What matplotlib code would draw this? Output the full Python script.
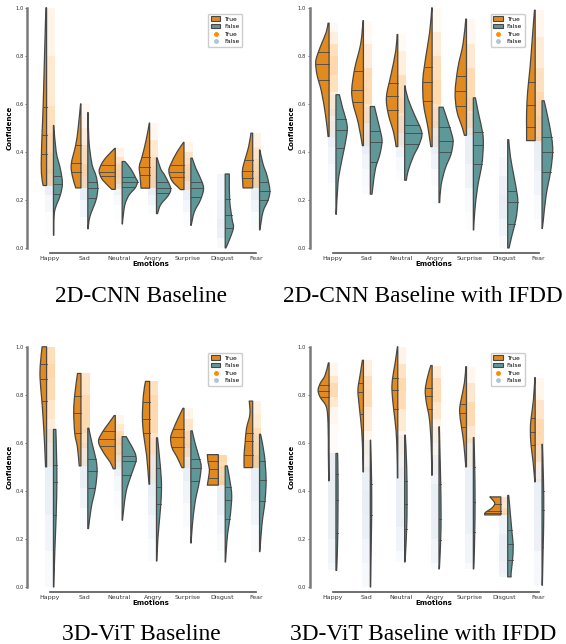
import numpy as np
import matplotlib.pyplot as plt
from matplotlib.patches import Patch, PathPatch
from matplotlib.path import Path
from matplotlib.lines import Line2D

emotions = ['Happy', 'Sad', 'Neutral', 'Angry', 'Surprise', 'Disgust', 'Fear']
titles = ['2D-CNN Baseline', '2D-CNN Baseline with IFDD',
          '3D-ViT Baseline', '3D-ViT Baseline with IFDD']

# every half violin: confidence levels (top -> bottom), half width at each
# level (in % of one category step) and quartiles (q1, median, q3)
# None = no samples for that class

# ---- 2D-CNN baseline
cnn_true_levels = [[1.0, 0.8, 0.59, 0.48, 0.39, 0.31, 0.26],
                   [0.60, 0.5, 0.43, 0.35, 0.30, 0.25],
                   [0.415, 0.38, 0.35, 0.32, 0.29, 0.265, 0.244],
                   [0.52, 0.45, 0.38, 0.34, 0.30, 0.249],
                   [0.44, 0.40, 0.35, 0.32, 0.28, 0.243],
                   None,
                   [0.478, 0.42, 0.37, 0.32, 0.25]]
cnn_true_widths = [[2, 6, 10, 13, 15, 15, 10],
                   [1, 8, 15, 28, 25, 15],
                   [1, 25, 40, 47, 40, 25, 10],
                   [1, 10, 22, 30, 28, 25],
                   [1, 20, 38, 44, 35, 10],
                   None,
                   [5, 12, 22, 30, 28]]
cnn_true_quart = [(0.39, 0.47, 0.585), (0.318, 0.353, 0.428), (0.30, 0.317, 0.346),
                  (0.304, 0.338, 0.378), (0.297, 0.318, 0.346), None,
                  (0.293, 0.321, 0.367)]
cnn_false_levels = [[0.51, 0.40, 0.33, 0.27, 0.22, 0.15, 0.053],
                    [0.564, 0.45, 0.35, 0.30, 0.25, 0.20, 0.13, 0.08],
                    [0.36, 0.33, 0.29, 0.275, 0.25, 0.22, 0.18, 0.12, 0.10],
                    [0.375, 0.33, 0.30, 0.25, 0.22, 0.18, 0.143],
                    [0.374, 0.33, 0.30, 0.25, 0.20, 0.15, 0.094],
                    [0.308, 0.20, 0.12, 0.085, 0.04, 0.0],
                    [0.408, 0.35, 0.30, 0.24, 0.20, 0.15, 0.075]]
cnn_false_widths = [[1, 8, 20, 26, 20, 3, 1],
                    [1, 3, 12, 24, 29, 24, 6, 1],
                    [8, 25, 40, 45, 38, 20, 8, 2, 1],
                    [2, 12, 25, 41, 35, 12, 3],
                    [4, 15, 25, 37, 28, 10, 1],
                    [12, 13, 20, 24, 14, 2],
                    [1, 10, 22, 30, 25, 10, 1]]
cnn_false_quart = [(0.224, 0.267, 0.30), (0.206, 0.249, 0.276), (0.253, 0.274, 0.296),
                   (0.228, 0.249, 0.275), (0.214, 0.249, 0.275), (0.085, 0.138, 0.204),
                   (0.20, 0.239, 0.274)]

# ---- 2D-CNN with IFDD
cnn_ifdd_true_levels = [[0.936, 0.90, 0.85, 0.80, 0.77, 0.72, 0.65, 0.55, 0.464],
                        [0.947, 0.85, 0.75, 0.66, 0.60, 0.52, 0.426],
                        [0.889, 0.82, 0.72, 0.63, 0.56, 0.48, 0.422],
                        [1.0, 0.9, 0.8, 0.7, 0.6, 0.5, 0.422],
                        [0.953, 0.85, 0.75, 0.65, 0.57, 0.50, 0.469],
                        None,
                        [0.99, 0.88, 0.75, 0.65, 0.56, 0.50, 0.447]]
cnn_ifdd_true_widths = [[3, 8, 22, 35, 39, 35, 22, 10, 3],
                        [1, 8, 25, 34, 30, 15, 3],
                        [2, 6, 20, 33, 28, 12, 5],
                        [1, 7, 18, 27, 25, 12, 4],
                        [2, 10, 25, 33, 28, 12, 6],
                        None,
                        [2, 8, 15, 22, 25, 25, 25]]
cnn_ifdd_true_quart = [(0.699, 0.765, 0.814), (0.608, 0.658, 0.737), (0.575, 0.632, 0.686),
                       (0.613, 0.689, 0.754), (0.592, 0.654, 0.715), None,
                       (0.504, 0.594, 0.689)]
cnn_ifdd_false_levels = [[0.638, 0.58, 0.53, 0.49, 0.42, 0.35, 0.27, 0.14],
                         [0.589, 0.53, 0.47, 0.44, 0.39, 0.33, 0.26, 0.224],
                         [0.675, 0.62, 0.55, 0.48, 0.43, 0.38, 0.32, 0.282],
                         [0.586, 0.53, 0.47, 0.44, 0.39, 0.33, 0.26, 0.189],
                         [0.625, 0.56, 0.48, 0.43, 0.35, 0.25, 0.15, 0.075],
                         [0.451, 0.38, 0.30, 0.22, 0.18, 0.12, 0.05, 0.0],
                         [0.613, 0.55, 0.46, 0.40, 0.32, 0.22, 0.12, 0.081]]
cnn_ifdd_false_widths = [[10, 20, 30, 33, 25, 15, 6, 1],
                         [12, 22, 32, 34, 28, 15, 8, 5],
                         [1, 10, 30, 50, 42, 25, 10, 5],
                         [12, 25, 38, 41, 35, 18, 6, 2],
                         [6, 15, 27, 29, 25, 12, 4, 1],
                         [3, 8, 18, 28, 29, 24, 12, 4],
                         [6, 16, 28, 31, 25, 12, 4, 1]]
cnn_ifdd_false_quart = [(0.415, 0.492, 0.538), (0.356, 0.443, 0.486), (0.431, 0.478, 0.512),
                        (0.399, 0.446, 0.503), (0.35, 0.428, 0.482), (0.10, 0.192, 0.239),
                        (0.318, 0.40, 0.4625)]

# ---- 3D-ViT baseline
vit_true_levels = [[1.0, 0.93, 0.87, 0.78, 0.70, 0.60, 0.50],
                   [0.889, 0.80, 0.73, 0.64, 0.58, 0.504],
                   [0.714, 0.68, 0.65, 0.615, 0.59, 0.55, 0.52, 0.492],
                   [0.856, 0.80, 0.71, 0.64, 0.55, 0.45, 0.428],
                   [0.744, 0.70, 0.65, 0.62, 0.58, 0.54, 0.497],
                   [0.551, 0.52, 0.49, 0.46, 0.424],
                   [0.774, 0.72, 0.66, 0.60, 0.55, 0.497]]
vit_true_widths = [[13, 18, 19, 14, 10, 6, 3],
                   [10, 18, 21, 18, 10, 5],
                   [3, 20, 35, 48, 46, 30, 15, 6],
                   [12, 18, 21, 18, 9, 3, 2],
                   [3, 18, 33, 39, 35, 20, 6],
                   [32, 30, 26, 28, 32],
                   [10, 8, 18, 22, 25, 25]]
vit_true_quart = [(0.775, 0.867, 0.928), (0.642, 0.725, 0.797), (0.589, 0.615, 0.649),
                  (0.639, 0.70, 0.772), (0.583, 0.626, 0.658), (0.453, 0.492, 0.526),
                  (0.551, 0.606, 0.642)]
vit_false_levels = [[0.656, 0.55, 0.44, 0.30, 0.15, 0.0],
                    [0.661, 0.60, 0.53, 0.48, 0.41, 0.33, 0.243],
                    [0.626, 0.60, 0.56, 0.53, 0.50, 0.46, 0.40, 0.33, 0.278],
                    [0.621, 0.55, 0.45, 0.38, 0.30, 0.20, 0.108],
                    [0.65, 0.60, 0.53, 0.50, 0.44, 0.35, 0.25, 0.183],
                    [0.504, 0.44, 0.38, 0.30, 0.22, 0.15, 0.104],
                    [0.636, 0.55, 0.45, 0.36, 0.26, 0.147]]
vit_false_widths = [[7, 9, 10, 8, 4, 1],
                    [3, 12, 24, 27, 22, 10, 2],
                    [12, 22, 37, 41, 35, 25, 12, 5, 1],
                    [3, 8, 14, 14, 10, 4, 1],
                    [4, 12, 26, 30, 25, 12, 4, 1],
                    [6, 14, 19, 15, 7, 3, 1],
                    [3, 14, 19, 16, 7, 1]]
vit_false_quart = [(0.299, 0.435, 0.507), (0.41, 0.482, 0.532), (0.465, 0.525, 0.547),
                   (0.344, 0.417, 0.497), (0.44, 0.497, 0.532), (0.281, 0.361, 0.417),
                   (0.358, 0.447, 0.525)]

# ---- 3D-ViT with IFDD
vit_ifdd_true_levels = [[0.933, 0.88, 0.85, 0.82, 0.79, 0.75, 0.68, 0.55, 0.442],
                        [0.944, 0.88, 0.82, 0.75, 0.65, 0.55, 0.479],
                        [1.0, 0.93, 0.87, 0.82, 0.74, 0.65, 0.55, 0.454],
                        [0.922, 0.87, 0.82, 0.77, 0.70, 0.60, 0.465],
                        [0.917, 0.85, 0.77, 0.73, 0.67, 0.60, 0.50],
                        [0.375, 0.35, 0.33, 0.31, 0.30],
                        [0.872, 0.78, 0.70, 0.65, 0.59, 0.52, 0.4375]]
vit_ifdd_true_widths = [[2, 12, 25, 32, 26, 8, 3, 2, 1],
                        [3, 10, 16, 12, 5, 2, 1],
                        [1, 8, 15, 17, 12, 5, 2, 1],
                        [4, 14, 20, 17, 8, 3, 1],
                        [2, 6, 17, 20, 15, 8, 2],
                        [32, 18, 25, 45, 47],
                        [1, 5, 12, 14, 12, 6, 1]]
vit_ifdd_true_quart = [(0.789, 0.817, 0.842), (0.722, 0.812, 0.85), (0.743, 0.822, 0.869),
                       (0.74, 0.794, 0.828), (0.664, 0.725, 0.761), (0.307, 0.315, 0.344),
                       (0.593, 0.646, 0.704)]
vit_ifdd_false_levels = [[0.556, 0.45, 0.35, 0.20, 0.10, 0.069],
                         [0.611, 0.50, 0.40, 0.30, 0.20, 0.10, 0.0],
                         [0.632, 0.50, 0.35, 0.25, 0.15, 0.104],
                         [0.667, 0.55, 0.43, 0.30, 0.20, 0.10, 0.075],
                         [0.622, 0.50, 0.35, 0.22, 0.10, 0.075],
                         [0.381, 0.30, 0.22, 0.17, 0.11, 0.06, 0.042],
                         [0.594, 0.45, 0.30, 0.15, 0.007]]
vit_ifdd_false_widths = [[5, 6, 6, 5, 3, 2],
                         [1, 3, 4, 4, 3, 2, 1],
                         [2, 6, 7, 6, 3, 1],
                         [1, 3, 5, 6, 5, 2, 1],
                         [2, 4, 5, 4, 2, 1],
                         [3, 8, 13, 16, 14, 10, 10],
                         [1, 4, 5, 3, 1]]
vit_ifdd_false_quart = [(0.225, 0.361, 0.472), (0.194, 0.299, 0.428), (0.243, 0.344, 0.442),
                        (0.194, 0.285, 0.428), (0.228, 0.353, 0.499), (0.111, 0.178, 0.239),
                        (0.167, 0.32, 0.40)]

panels = [
    (cnn_true_levels, cnn_true_widths, cnn_true_quart,
     cnn_false_levels, cnn_false_widths, cnn_false_quart),
    (cnn_ifdd_true_levels, cnn_ifdd_true_widths, cnn_ifdd_true_quart,
     cnn_ifdd_false_levels, cnn_ifdd_false_widths, cnn_ifdd_false_quart),
    (vit_true_levels, vit_true_widths, vit_true_quart,
     vit_false_levels, vit_false_widths, vit_false_quart),
    (vit_ifdd_true_levels, vit_ifdd_true_widths, vit_ifdd_true_quart,
     vit_ifdd_false_levels, vit_ifdd_false_widths, vit_ifdd_false_quart),
]

TRUE_C = '#e08a1f'
FALSE_C = '#5f9898'
TRUE_DOT = '#ff9a2a'
FALSE_DOT = '#b0c4de'
EDGE = '#474747'
GAP = 0.1


def smooth_outline(xs, ys, edge, sgn):
    # bezier path through the read outline points (catmull-rom handles)
    pts = np.column_stack([xs, ys])
    P = np.vstack([pts[0], pts, pts[-1]])
    verts = [pts[0]]
    codes = [Path.MOVETO]
    for i in range(1, len(P) - 2):
        c1 = P[i] + (P[i + 1] - P[i - 1]) / 6.0
        c2 = P[i + 1] - (P[i + 2] - P[i]) / 6.0
        # keep handles on the outer side of the flat edge
        c1[0] = edge + sgn * max(sgn * (c1[0] - edge), 0)
        c2[0] = edge + sgn * max(sgn * (c2[0] - edge), 0)
        verts += [c1, c2, P[i + 1]]
        codes += [Path.CURVE4] * 3
    verts += [[edge, ys[-1]], [edge, ys[0]], [edge, ys[0]]]
    codes += [Path.LINETO, Path.LINETO, Path.CLOSEPOLY]
    return Path(np.array(verts), codes)


def half_violin(ax, x0, levels, widths, quart, side, color, dot):
    y = np.array(levels, dtype=float)
    w = np.array(widths, dtype=float) / 100.0
    sgn = -1 if side == 'left' else 1
    edge = x0 + sgn * GAP
    # faint strip standing in for the jittered samples
    lo, hi = (x0 - GAP, x0 + 0.15) if side == 'left' else (x0 - 0.14, x0 + GAP)
    amax = 0.40 if side == 'left' else 0.28
    for i in range(len(y) - 1):
        a = amax * (w[i] + w[i + 1]) / (2 * w.max())
        ax.fill_betweenx([y[i + 1], y[i]], lo, hi, color=dot, alpha=a, lw=0, zorder=2)
    path = smooth_outline(edge + sgn * w, y, edge, sgn)
    ax.add_patch(PathPatch(path, fc=color, ec=EDGE, lw=0.9, zorder=3,
                           joinstyle='round'))
    for q in quart:
        wq = np.interp(q, y[::-1], w[::-1])
        ax.plot([edge, edge + sgn * wq], [q, q], color=EDGE, lw=0.6, zorder=4)


fig = plt.figure(figsize=(5.66, 6.44), dpi=100)
W, H = 566.0, 644.0
ax_lefts = [27, 309.5, 27, 309.5]
ax_bottoms = [253, 253, 592, 592]
ax_w, ax_h = 248.0, 250.0

for k, data in enumerate(panels):
    tl, tw, tq, fl, fw, fq = data
    ax = fig.add_axes([ax_lefts[k] / W, (H - ax_bottoms[k]) / H, ax_w / W, ax_h / H])
    for i in range(len(emotions)):
        if fl[i] is not None:
            half_violin(ax, i, fl[i], fw[i], fq[i], 'right', FALSE_C, FALSE_DOT)
        if tl[i] is not None:
            half_violin(ax, i, tl[i], tw[i], tq[i], 'left', TRUE_C, TRUE_DOT)
    ax.set_xlim(-0.67, 6.55)
    ax.set_ylim(-0.021, 1.02)
    for s in ['top', 'right']:
        ax.spines[s].set_visible(False)
    ax.spines['left'].set_bounds(0, 1)
    ax.spines['left'].set_color('#7a7a7a')
    ax.spines['left'].set_linewidth(1.8)
    ax.spines['bottom'].set_bounds(0, 6)
    ax.spines['bottom'].set_color('#555555')
    ax.spines['bottom'].set_linewidth(1.2)
    ax.set_xticks(range(len(emotions)))
    ax.set_xticklabels(emotions, fontsize=4.5, color='#333333')
    ax.set_yticks([0.0, 0.2, 0.4, 0.6, 0.8, 1.0])
    ax.set_yticklabels(['0.0', '0.2', '0.4', '0.6', '0.8', '1.0'], fontsize=3.8,
                       color='#333333')
    ax.tick_params(axis='x', length=0, pad=2)
    ax.tick_params(axis='y', length=1.5, width=0.6, pad=1, color='#555555')
    ax.set_ylabel('Confidence', fontsize=5, fontweight='bold', labelpad=2)
    ax.set_xlabel('Emotions', fontsize=5, fontweight='bold', labelpad=0.5)

    handles = [Patch(fc=TRUE_C, ec=EDGE, lw=0.8, label='True'),
               Patch(fc=FALSE_C, ec=EDGE, lw=0.8, label='False'),
               Line2D([], [], ls='', marker='o', ms=2.5, color='#ff8c00', label='True'),
               Line2D([], [], ls='', marker='o', ms=2.5, color=FALSE_DOT, label='False')]
    ax.legend(handles=handles, loc='upper right', bbox_to_anchor=(0.867, 0.957),
              borderaxespad=0, fontsize=4.3, handlelength=1.6, handleheight=0.7,
              labelspacing=0.4, borderpad=0.45, handletextpad=0.6, framealpha=1,
              edgecolor='#cccccc', fancybox=True)

cap_x = [141, 423, 141, 423]
cap_y = [302, 302, 640, 640]
for k in range(4):
    fig.text(cap_x[k] / W, (H - cap_y[k]) / H, titles[k], ha='center', va='baseline',
             fontsize=16.8, family='Liberation Serif')

fig.savefig('out.png', dpi=100)
